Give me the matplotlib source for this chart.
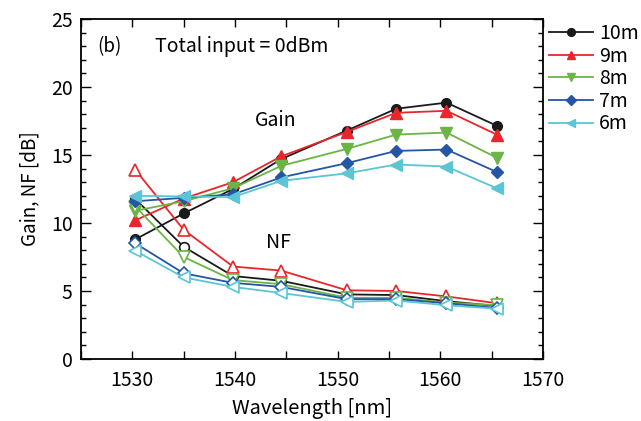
import matplotlib
matplotlib.use("Agg")
import matplotlib.pyplot as plt
from matplotlib.ticker import MultipleLocator

plt.rcParams['font.family'] = ['Noto Sans CJK JP', 'DejaVu Sans']

# wavelengths [nm]
wl = [1530.3, 1535.0, 1539.8, 1544.5, 1550.9, 1555.7, 1560.6, 1565.5]

lengths = ['10m', '9m', '8m', '7m', '6m']
colors = ['#1a1a1a', '#e8262b', '#6ab545', '#2456a4', '#5bc5d5']
markers = ['o', '^', 'v', 'D', '<']
msizes = [7, 8, 8, 6.5, 8]

gain_10m = [8.8, 10.7, 12.5, 14.7, 16.8, 18.4, 18.85, 17.15]
gain_9m = [10.2, 11.8, 13.0, 14.9, 16.7, 18.1, 18.25, 16.5]
gain_8m = [10.9, 11.6, 12.55, 14.2, 15.45, 16.5, 16.65, 14.8]
gain_7m = [11.6, 11.85, 12.1, 13.35, 14.4, 15.3, 15.4, 13.75]
gain_6m = [12.0, 11.95, 11.9, 13.1, 13.65, 14.3, 14.15, 12.55]

nf_10m = [11.75, 8.25, 6.1, 5.75, 4.75, 4.7, 4.25, 3.9]
nf_9m = [13.9, 9.5, 6.8, 6.5, 5.05, 5.0, 4.6, 4.1]
nf_8m = [11.2, 7.5, 5.8, 5.5, 4.5, 4.5, 4.15, 3.95]
nf_7m = [8.5, 6.3, 5.6, 5.3, 4.4, 4.4, 4.1, 3.75]
nf_6m = [7.95, 6.0, 5.3, 4.85, 4.2, 4.3, 3.95, 3.7]

gains = [gain_10m, gain_9m, gain_8m, gain_7m, gain_6m]
nfs = [nf_10m, nf_9m, nf_8m, nf_7m, nf_6m]

fig = plt.figure(figsize=(6.41, 4.21), dpi=100)
ax = fig.add_axes([0.1264, 0.1473, 0.7207, 0.8076])

handles = []
for name, c, m, ms, g, nf in zip(lengths, colors, markers, msizes, gains, nfs):
    h, = ax.plot(wl, g, color=c, marker=m, markersize=ms, lw=1.3,
                 markeredgecolor=c, markerfacecolor=c, label=name, zorder=3)
    ax.plot(wl, nf, color=c, marker=m, markersize=ms, lw=1.3,
            markeredgecolor=c, markerfacecolor='white', markeredgewidth=1.2, zorder=3)
    handles.append(h)

ax.set_xlim(1525, 1570)
ax.set_ylim(0, 25)
ax.xaxis.set_major_locator(MultipleLocator(10))
ax.xaxis.set_minor_locator(MultipleLocator(5))
ax.yaxis.set_major_locator(MultipleLocator(5))
ax.yaxis.set_minor_locator(MultipleLocator(1))
ax.tick_params(which='both', direction='in', top=True, right=True, labelsize=14, width=1.0)
ax.tick_params(axis='x', which='both', length=6, pad=8)
ax.tick_params(axis='y', which='major', length=7, pad=6)
ax.tick_params(axis='y', which='minor', length=3.5)
for s in ax.spines.values():
    s.set_linewidth(1.3)

ax.set_ylabel('Gain, NF [dB]', fontsize=13.5, labelpad=8)
ax.set_xlabel('Wavelength [nm]', fontsize=14.5, labelpad=5)

ax.text(1526.6, 23.0, '(b)', fontsize=13.5, va='center')
ax.text(1532.2, 23.0, 'Total input = 0dBm', fontsize=14, va='center')
ax.text(1544.0, 17.5, 'Gain', fontsize=14, ha='center', va='center')
ax.text(1544.2, 8.55, 'NF', fontsize=14, ha='center', va='center')

fig.legend(handles=handles, loc='upper left', bbox_to_anchor=(0.856, 0.945),
           frameon=False, fontsize=14, handlelength=2.3, handletextpad=0.3,
           labelspacing=0.08, borderaxespad=0, borderpad=0, markerscale=0.8)

fig.savefig('out.png', dpi=100)
